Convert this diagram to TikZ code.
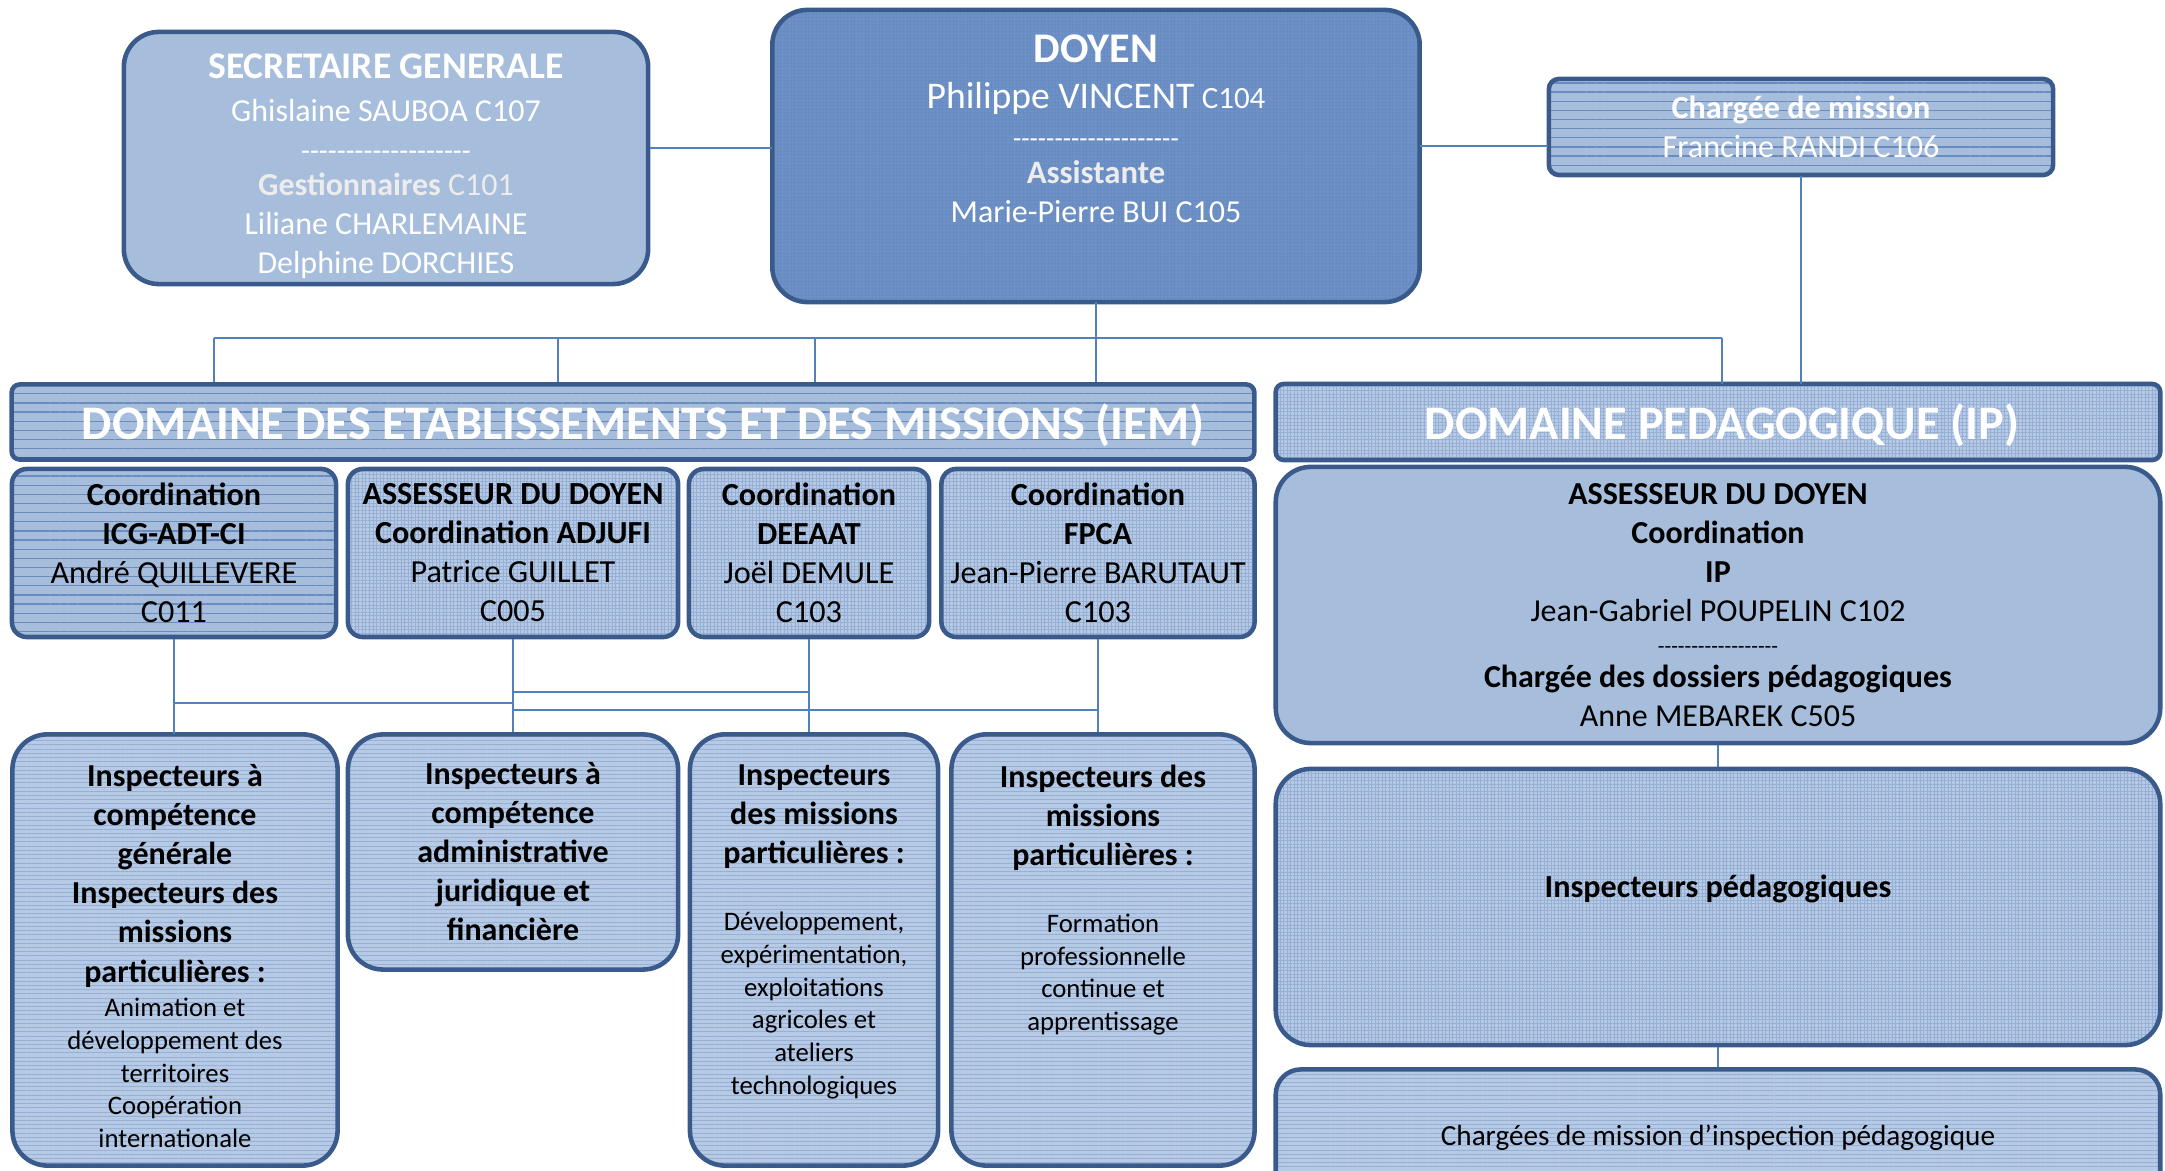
\documentclass[tikz,border=0pt]{standalone}
\usepackage{fontspec}
\setmainfont{Carlito}
\usepackage{tikz}
\usetikzlibrary{patterns.meta}
\definecolor{clrBorder}{RGB}{59,90,140}
\definecolor{clrConn}{RGB}{79,129,189}
\definecolor{clrBox}{RGB}{167,189,220}
\definecolor{clrLight}{RGB}{182,202,229}
\definecolor{clrDoyen}{RGB}{110,146,199}
\definecolor{clrLine}{RGB}{105,140,192}
\definecolor{clrWeave}{RGB}{150,175,212}
\definecolor{clrSoft}{RGB}{236,236,236}
\tikzstyle{box} = [draw=clrBorder, line width=1.3pt, rectangle, inner sep=0pt, align=center]
\tikzstyle{txt} = [align=center, inner sep=0pt]
\tikzstyle{conn} = [draw=clrConn, line width=0.5pt]
\tikzstyle{plainfill} = [fill=clrBox]
\tikzstyle{linefill} = [preaction={fill=clrBox}, pattern={Lines[angle=0,distance=2.6pt,line width=0.35pt]}, pattern color=clrLine]
\tikzstyle{densefill} = [preaction={fill=clrLight}, pattern={Lines[angle=0,distance=1.2pt,line width=0.2pt]}, pattern color=clrWeave]
\tikzstyle{weavefill} = [preaction={fill=clrLight}, pattern={Hatch[distance=1pt,line width=0.15pt]}, pattern color=clrWeave]
\tikzstyle{gridfill} = [preaction={fill=clrDoyen}, pattern={Hatch[distance=1pt,line width=0.2pt]}, pattern color=clrLine]
\tikzstyle{header} = [box, rounded corners=0.08cm, text=white, text depth=0pt, font=\fsz{13.7pt}{15pt}\bfseries]
\newcommand{\fsz}[2]{\fontsize{#1}{#2}\selectfont}
\newcommand{\dashline}[1]{\foreach \k in {1,...,#1}{\mbox{-}}}
\newcommand{\bline}[1]{{\fsz{9.1pt}{11pt}\bfseries #1}}

\begin{document}
\begin{tikzpicture}[x=0.01cm, y=-0.01cm]
\useasboundingbox (0,0) rectangle (2165,1171);
% direction
\node[box, plainfill, rounded corners=0.35cm, minimum width=5.24cm, minimum height=2.52cm] (sec) at (386,158) {};
\node[txt, text=white, font=\fsz{9.1pt}{11.1pt}, anchor=north, yshift=-0.23cm] (sectxt) at (sec.north) {{\fsz{10.7pt}{12pt}\bfseries SECRETAIRE GENERALE}\\[1.2pt]Ghislaine SAUBOA C107\\{\fsz{8.3pt}{10pt}\dashline{19}}\\[-1.2pt]{\color{clrSoft}\textbf{Gestionnaires} C101}\\Liliane CHARLEMAINE\\Delphine DORCHIES};
\node[box, gridfill, rounded corners=0.35cm, minimum width=6.47cm, minimum height=2.92cm] (doyen) at (1096,156) {};
\node[txt, text=white, font=\fsz{9.1pt}{11.1pt}, anchor=north, yshift=-0.25cm] (doyentxt) at (doyen.north) {{\fsz{12pt}{14pt}\bfseries DOYEN}\\[1.9pt]{\fsz{10.7pt}{11pt}Philippe VINCENT} {\fsz{8.8pt}{10pt}C104}\\{\fsz{7.7pt}{9pt}\dashline{20}}\\[-0.8pt]{\color{clrSoft}\fsz{9.3pt}{11pt}\bfseries Assistante}\\Marie-Pierre BUI C105};
\node[box, linefill, rounded corners=0.1cm, minimum width=5.04cm, minimum height=0.96cm, text=white, font=\fsz{9.15pt}{11.1pt}] (chm) at (1801,127) {\textbf{Chargée de mission}\\Francine RANDI C106};
%--------------------
\node[header, linefill, minimum width=12.42cm, minimum height=0.75cm] (iem) at (633,422) {\hspace*{0.2cm}DOMAINE DES ETABLISSEMENTS ET DES MISSIONS (IEM)};
\node[header, weavefill, minimum width=8.84cm, minimum height=0.76cm] (iph) at (1718,422) {\hspace*{0.08cm}DOMAINE PEDAGOGIQUE (IP)};
%--------------------
\node[box, linefill, rounded corners=0.15cm, minimum width=3.24cm, minimum height=1.68cm, font=\fsz{9.15pt}{11.1pt}] (icg) at (174,553) {\textbf{Coordination}\\\textbf{ICG-ADT-CI}\\André QUILLEVERE\\C011};
\node[box, weavefill, rounded corners=0.15cm, minimum width=3.30cm, minimum height=1.68cm, font=\fsz{9.15pt}{11.1pt}] (adj) at (513,553) {\textbf{ASSESSEUR DU DOYEN}\\\textbf{Coordination ADJUFI}\\Patrice GUILLET\\C005};
\node[box, weavefill, rounded corners=0.15cm, minimum width=2.40cm, minimum height=1.68cm, font=\fsz{9.15pt}{11.1pt}] (dee) at (809,553) {\textbf{Coordination}\\\textbf{DEEAAT}\\Joël DEMULE\\C103};
\node[box, weavefill, rounded corners=0.15cm, minimum width=3.13cm, minimum height=1.68cm, font=\fsz{9.15pt}{11.1pt}] (fpc) at (1098,553) {\textbf{Coordination}\\\textbf{FPCA}\\Jean-Pierre BARUTAUT\\C103};
\node[box, plainfill, rounded corners=0.35cm, minimum width=8.84cm, minimum height=2.76cm, font=\fsz{9.1pt}{11.1pt}] (ipc) at (1718,605) {\textbf{ASSESSEUR DU DOYEN}\\\textbf{Coordination}\\\textbf{IP}\\Jean-Gabriel POUPELIN C102\\[-2pt]{\fsz{6.2pt}{8pt}\dashline{18}}\\[-1.5pt]\textbf{Chargée des dossiers pédagogiques}\\Anne MEBAREK C505};
%--------------------
\node[box, densefill, rounded corners=0.35cm, minimum width=3.25cm, minimum height=4.31cm] (insA) at (175,950) {};
\node[txt, font=\fsz{7.6pt}{9.3pt}, anchor=north, yshift=-0.30cm] (insAtxt) at (insA.north) {\bline{Inspecteurs à}\\[1.8pt]\bline{compétence}\\[1.8pt]\bline{générale}\\[1.8pt]\bline{Inspecteurs des}\\[1.8pt]\bline{missions}\\[1.8pt]\bline{particulières :}\\[0.6pt]Animation et\\développement des\\territoires\\Coopération\\internationale};
\node[box, densefill, rounded corners=0.35cm, minimum width=3.30cm, minimum height=2.35cm, font=\fsz{9.1pt}{11.1pt}\bfseries] (insB) at (513,852) {Inspecteurs à\\compétence\\administrative\\juridique et\\financière};
\node[box, densefill, rounded corners=0.35cm, minimum width=2.48cm, minimum height=4.31cm] (insC) at (814,950) {};
\node[txt, font=\fsz{7.6pt}{9.3pt}, anchor=north, yshift=-0.32cm] (insCtxt) at (insC.north) {\bline{Inspecteurs}\\[1.8pt]\bline{des missions}\\[1.8pt]\bline{particulières :}\\[9.8pt]Développement,\\expérimentation,\\exploitations\\agricoles et\\ateliers\\technologiques};
\node[box, densefill, rounded corners=0.35cm, minimum width=3.03cm, minimum height=4.31cm] (insD) at (1103,950) {};
\node[txt, font=\fsz{7.6pt}{9.3pt}, anchor=north, yshift=-0.32cm] (insDtxt) at (insD.north) {\bline{Inspecteurs des}\\[1.8pt]\bline{missions}\\[1.8pt]\bline{particulières :}\\[9.8pt]Formation\\professionnelle\\continue et\\apprentissage};
\node[box, weavefill, rounded corners=0.35cm, minimum width=8.84cm, minimum height=2.76cm] (ped) at (1718,907) {};
\node[txt, font=\fsz{9.15pt}{11pt}\bfseries, yshift=0.18cm] (pedtxt) at (ped.center) {Inspecteurs pédagogiques};
\node[box, densefill, rounded corners=0.25cm, minimum width=8.84cm, minimum height=1.37cm, font=\fsz{8.3pt}{10pt}] (chgp) at (1718,1138) {Chargées de mission d’inspection pédagogique};
%--------------------
\draw[conn] ([yshift=0.1cm]sec.east) -- ([yshift=0.1cm]sec.east -| doyen.west);
\draw[conn] ([yshift=-0.19cm]chm.west) -- ([yshift=-0.19cm]chm.west -| doyen.east);
\draw[conn] (chm.south) -- (chm.south |- iph.north);
\draw[conn] (doyen.south) -- ++(0,33) coordinate (bus);
\coordinate (dropA) at (214,338);
\coordinate (dropB) at (558,338);
\coordinate (dropC) at (815,338);
\coordinate (dropE) at (1722,338);
\draw[conn] (dropA) -- (dropE);
\foreach \d in {dropA,dropB,dropC,bus}
	\draw[conn] (\d) -- (\d |- iem.north);
\draw[conn] (dropE) -- (dropE |- iph.north);
%--------------------
\draw[conn] (icg.south) -- ++(0,64) -| (adj.south);
\draw[conn] (adj.south) ++(0,53) -| (dee.south);
\draw[conn] (adj.south) ++(0,71) -| (fpc.south);
\draw[conn] (icg.south) -- (icg.south |- insA.north);
\draw[conn] (adj.south) -- (adj.south |- insB.north);
\draw[conn] (dee.south) -- (dee.south |- insC.north);
\draw[conn] (fpc.south) -- (fpc.south |- insD.north);
\draw[conn] (ipc) -- (ped);
\draw[conn] (ped) -- (chgp);
\end{tikzpicture}
\end{document}
